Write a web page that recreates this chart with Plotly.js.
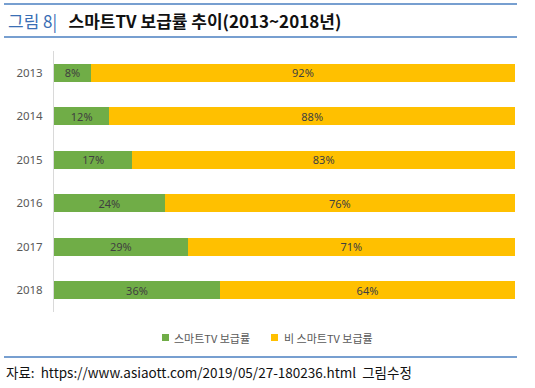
<!DOCTYPE html>
<html><head><meta charset="utf-8">
<script src="https://cdn.plot.ly/plotly-3.0.1.min.js"></script>
<style>html,body{margin:0;padding:0;background:#fff}#chart{width:535px;height:388px}</style>
</head><body><div id="chart"></div>
<script>
const years = ['2013','2014','2015','2016','2017','2018'];
const smartTV = [8, 12, 17, 24, 29, 36];
const nonSmartTV = [92, 88, 83, 76, 71, 64];
const seriesNames = ['스마트TV 보급률', '비 스마트TV 보급률'];
const seriesColors = ['#70ad47', '#ffc000'];

const FONT = 'Noto Sans CJK KR, Noto Sans, sans-serif';
const LABELFONT = 'Noto Sans, DejaVu Sans, sans-serif';
const PX = x => (x - 54) / 461;      // pixel -> paper x
const PY = y => (312 - y) / 261;     // pixel -> paper y

const traces = [smartTV, nonSmartTV].map((vals, i) => ({
  type:'bar', orientation:'h', y:years, x:vals, name:seriesNames[i],
  marker:{color:seriesColors[i]}, texttemplate:'%{x}%', textposition:'inside', constraintext:'none',
  insidetextanchor:'middle', textfont:{color:'#404040', size:11, family:LABELFONT}, hoverinfo:'none'
}));

// manual legend (square + label) positioned like the reference
const legendPos = [{sq:162, tx:172}, {sq:271, tx:282}];
const legendShapes = legendPos.map((p, i) => ({
  type:'rect', xref:'paper', yref:'paper', x0:PX(p.sq), x1:PX(p.sq + 7), y0:PY(341), y1:PY(334),
  fillcolor:seriesColors[i], line:{width:0}
}));
const legendAnn = legendPos.map((p, i) => ({
  xref:'paper', yref:'paper', x:PX(p.tx), y:PY(337.5), xanchor:'left', yanchor:'middle', showarrow:false,
  text:seriesNames[i], font:{size:11, color:'#595959', family:FONT}
}));

const layout = {
  width:535, height:388, barmode:'stack', bargap:0.59,
  margin:{l:54, r:20, t:51, b:76},
  paper_bgcolor:'#fff', plot_bgcolor:'#fff',
  font:{family:FONT, color:'#595959'},
  showlegend:false,
  xaxis:{range:[0,100], showgrid:false, zeroline:false, showticklabels:false, fixedrange:true},
  yaxis:{type:'category', autorange:'reversed', showgrid:false, zeroline:false,
         showline:true, linecolor:'#d9d9d9', linewidth:1, ticks:'', ticklen:0,
         tickfont:{size:11.5, color:'#595959', family:LABELFONT}, ticklabelstandoff:8},
  shapes:[
    {type:'line', xref:'paper', yref:'paper', x0:PX(4), x1:PX(517), y0:PY(4), y1:PY(4), line:{color:'#4a7fc0', width:1.5}},
    {type:'line', xref:'paper', yref:'paper', x0:PX(4), x1:PX(517), y0:PY(37), y1:PY(37), line:{color:'#4a7fc0', width:1.5}},
    {type:'line', xref:'paper', yref:'paper', x0:PX(4), x1:PX(517), y0:PY(357), y1:PY(357), line:{color:'#4a7fc0', width:1.5}}
  ].concat(legendShapes),
  annotations:[
    {xref:'paper', yref:'paper', x:PX(6), y:PY(20), xanchor:'left', yanchor:'middle', showarrow:false,
     text:'<span style="color:#3a6fb5">그림 8|</span>   <b>스마트TV 보급률 추이(2013~2018년)</b>',
     font:{size:17, color:'#111', family:FONT}},
    {xref:'paper', yref:'paper', x:PX(4), y:PY(372), xanchor:'left', yanchor:'middle', showarrow:false,
     text:'자료:  https://www.asiaott.com/2019/05/27-180236.html  그림수정',
     font:{size:13.5, color:'#111', family:FONT}}
  ].concat(legendAnn)
};
Plotly.newPlot('chart', traces, layout, {displayModeBar:false, staticPlot:true});
</script></body></html>
